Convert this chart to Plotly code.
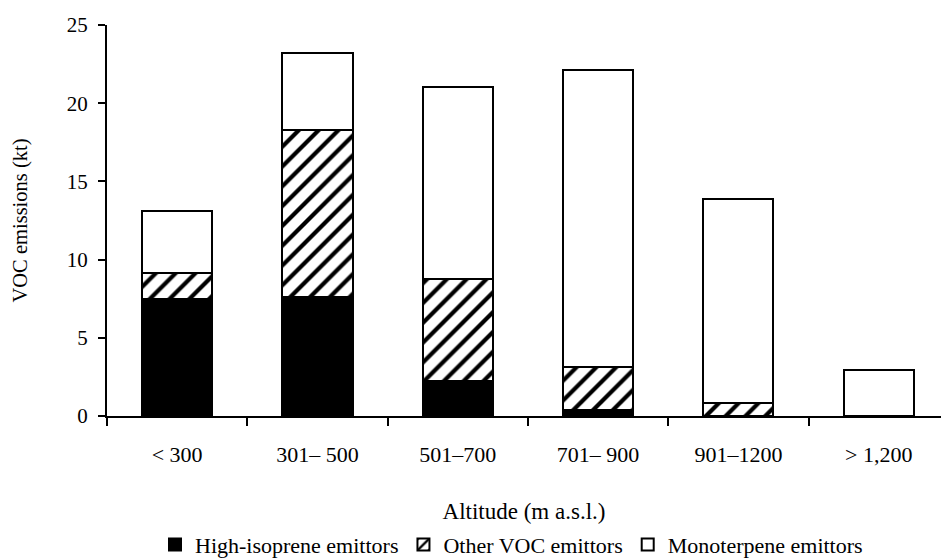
import plotly.graph_objects as go

categories = ["< 300", "301\u2013 500", "501\u2013700", "701\u2013 900", "901\u20131200", "> 1,200"]
high_isoprene = [7.45, 7.6, 2.25, 0.37, 0.0, 0.0]
other_voc = [1.7, 10.7, 6.5, 2.75, 0.85, 0.0]
monoterpene = [3.95, 4.9, 12.3, 19.0, 13.05, 2.93]
y_ticks = [0, 5, 10, 15, 20, 25]

FONT = "Liberation Serif"
line = dict(color="black", width=2)

fig = go.Figure()
fig.add_trace(go.Bar(x=categories, y=high_isoprene, name="High-isoprene emittors",
                     marker=dict(color="black", line=line), width=0.5))
fig.add_trace(go.Bar(x=categories, y=other_voc, name="Other VOC emittors",
                     marker=dict(color="white", line=line,
                                 pattern=dict(shape="/", fgcolor="black", bgcolor="white",
                                              fgopacity=1, size=14, solidity=0.3)), width=0.5))
fig.add_trace(go.Bar(x=categories, y=monoterpene, name="Monoterpene emittors",
                     marker=dict(color="white", line=line), width=0.5))

fig.update_layout(
    barmode="stack",
    width=941, height=558,
    margin=dict(l=107, r=0, t=25, b=142, autoexpand=False),
    paper_bgcolor="white", plot_bgcolor="white",
    font=dict(family=FONT, size=20, color="black"),
    showlegend=True,
    legend=dict(orientation="h", x=0.485, xanchor="center", y=-0.329, yanchor="middle",
                font=dict(family=FONT, size=22, color="black"), traceorder="normal",
                entrywidth=0),
    xaxis=dict(type="category", range=[-0.5, 5.444], showline=True, linecolor="black",
               linewidth=2, ticks="outside", ticklen=8, tickwidth=2, tickcolor="black",
               tickson="boundaries", showgrid=False, zeroline=False, automargin=False,
               tickfont=dict(family=FONT, size=22), ticklabelstandoff=18,
               title=dict(text="Altitude (m a.s.l.)", standoff=36,
                          font=dict(family=FONT, size=23))),
    yaxis=dict(range=[0, 25], tickvals=y_ticks, showline=True, linecolor="black",
               linewidth=2, ticks="outside", ticklen=7, tickwidth=2, tickcolor="black",
               showgrid=False, zeroline=False, automargin=False,
               tickfont=dict(family=FONT, size=21), ticklabelstandoff=6,
               title=dict(text="VOC emissions (kt)", standoff=34,
                          font=dict(family=FONT, size=20.5))),
)

fig.write_html("out.html", config={"displayModeBar": False},
               post_script="document.body.style.margin='0';document.body.style.overflow='hidden';")
